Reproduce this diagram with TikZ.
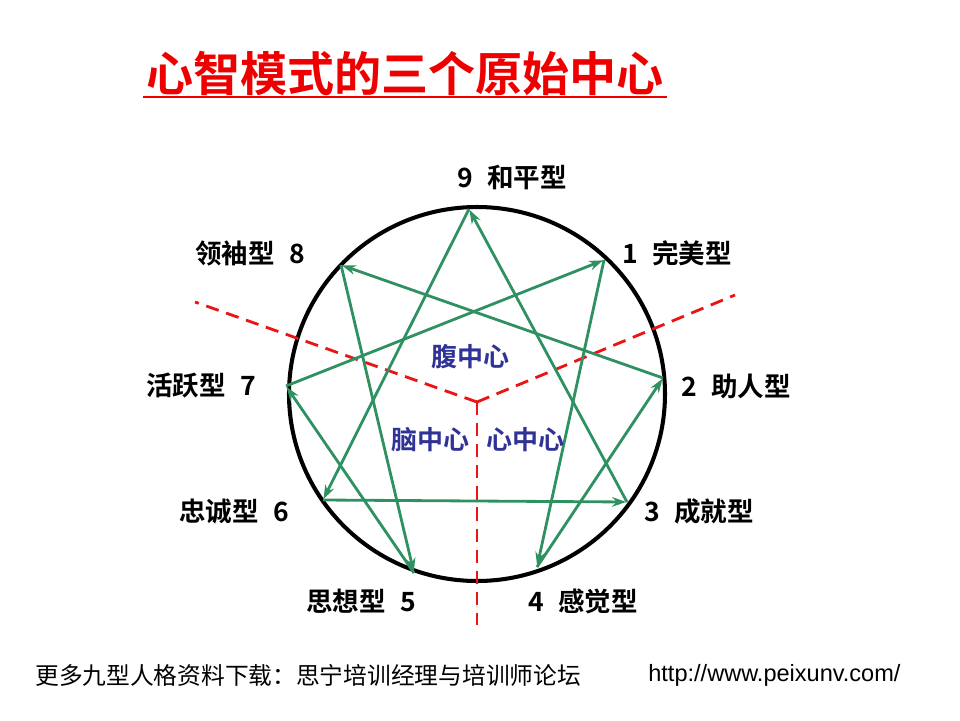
\documentclass[tikz,border=0pt]{standalone}
\usepackage{fontspec}
\setmainfont{Liberation Sans}
\newfontfamily\cjk{Noto Sans CJK SC}[BoldFont={Noto Sans CJK SC Bold}]
\usetikzlibrary{arrows.meta}
\definecolor{titlered}{RGB}{238,0,0}
\definecolor{arrowgreen}{RGB}{47,145,98}
\definecolor{dashred}{RGB}{235,20,20}
\definecolor{centerblue}{RGB}{48,50,150}
\tikzset{
  typelabel/.style={font=\cjk\bfseries\fontsize{15.1pt}{17pt}\selectfont, text=black, inner sep=0pt},
  centerlabel/.style={font=\cjk\bfseries\fontsize{14.8pt}{17pt}\selectfont, text=centerblue, inner sep=0pt},
  flow/.style={draw=arrowgreen, line width=1.6pt, -{Stealth[length=8pt,width=5.5pt]}, shorten >=0.5pt},
  divider/.style={draw=dashred, line width=1.6pt, dash pattern=on 7.5pt off 4.5pt},
}
\begin{document}
\begin{tikzpicture}[x=0.02cm,y=-0.02cm]
\useasboundingbox (0,0) rectangle (960,720);
% title
\node[font=\cjk\bfseries\fontsize{26.8pt}{30pt}\selectfont, text=titlered, inner sep=0pt] (title) at (405,73) {心智模式的三个原始中心};
\draw[titlered, line width=1.6pt] (143,97) -- (667,97);
% circle
\coordinate (c) at (477,394);
\draw[black, line width=2.3pt] (c) circle[x radius=188, y radius=-187];
% points
\coordinate (p9) at (469,209);
\coordinate (p1) at (604,260);
\coordinate (p2) at (663,378);
\coordinate (p3) at (627,502);
\coordinate (p4) at (537,567);
\coordinate (p5) at (414,573);
\coordinate (p6) at (323,500);
\coordinate (p7) at (286,386);
\coordinate (p8) at (341,265);
% dividers
\coordinate (m) at (477,402);
\coordinate (dl) at (195,302);
\coordinate (dr) at (735,295);
\coordinate (db) at (477,625);
\draw[divider] (m) -- (dl);
\draw[divider] (m) -- (dr);
\draw[divider] (m) -- (db);
% triangle
\draw[flow] (p9) -- (p6);
\draw[flow] (p6) -- (p3);
\draw[flow] (p3) -- (p9);
% hexad
\draw[flow] (p1) -- (p4);
\draw[flow] (p4) -- (p2);
\draw[flow] (p2) -- (p8);
\draw[flow] (p8) -- (p5);
\draw[flow] (p5) -- (p7);
\draw[flow] (p7) -- (p1);
% type labels
\node[typelabel] (l9) at (512,178) {9\hspace{0.55em}和平型};
\node[typelabel] (l1) at (677,253) {1\hspace{0.55em}完美型};
\node[typelabel] (l2) at (736,386) {2\hspace{0.55em}助人型};
\node[typelabel] (l3) at (699,511) {3\hspace{0.55em}成就型};
\node[typelabel] (l4) at (583,601) {4\hspace{0.55em}感觉型};
\node[typelabel] (l5) at (361,601) {思想型\hspace{0.55em}5};
\node[typelabel] (l6) at (234,511) {忠诚型\hspace{0.55em}6};
\node[typelabel] (l7) at (201,386) {活跃型\hspace{0.55em}7};
\node[typelabel] (l8) at (250,253) {领袖型\hspace{0.55em}8};
% center labels
\node[centerlabel] (belly) at (470,357) {腹中心};
\node[centerlabel] (head) at (430,440) {脑中心};
\node[centerlabel] (heart) at (525,440) {心中心};
% footer
\node[font=\cjk\fontsize{13.5pt}{16pt}\selectfont, anchor=west, inner sep=0pt] (foot) at (35,675) {更多九型人格资料下载：思宁培训经理与培训师论坛};
\node[font=\fontsize{13.4pt}{16pt}\selectfont, anchor=west, inner sep=0pt] (url) at (648,675) {http://www.peixunv.com/};
\end{tikzpicture}
\end{document}
